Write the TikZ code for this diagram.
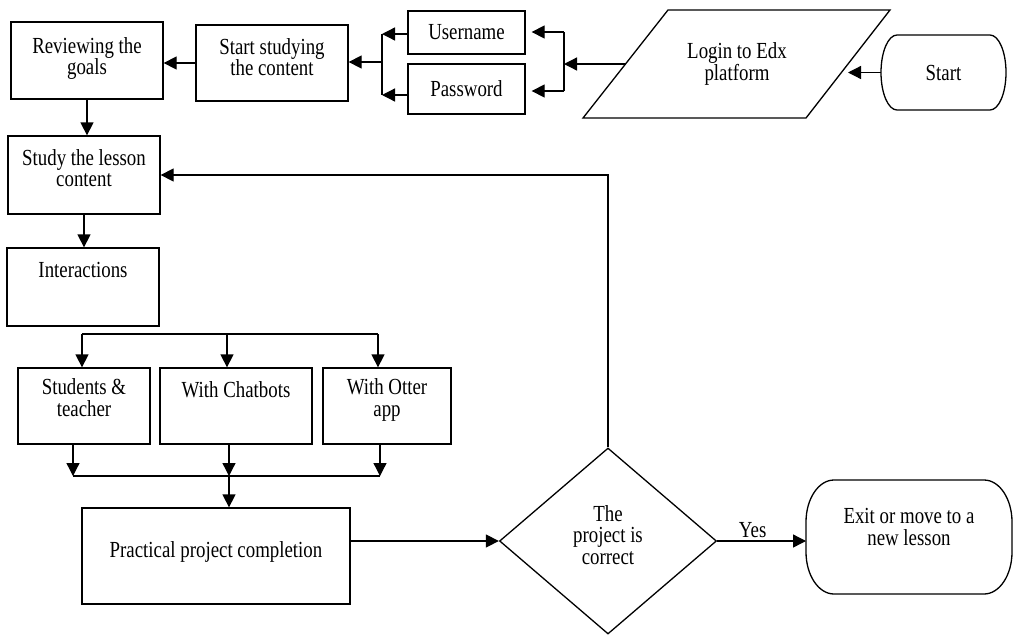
\documentclass[tikz,border=0pt]{standalone}
\usepackage{fontspec}
\setmainfont{Liberation Serif}[FakeStretch=0.82]
\usetikzlibrary{arrows.meta,shapes.geometric}
\newcommand{\ovalbox}[3]{%
  \draw[lw] ([xshift=#2]#1.north west) -- ([xshift=-#2]#1.north east)
    arc[start angle=90,end angle=0,x radius=#2,y radius=#3]
    -- ([yshift=#3]#1.south east)
    arc[start angle=0,end angle=-90,x radius=#2,y radius=#3]
    -- ([xshift=#2]#1.south west)
    arc[start angle=-90,end angle=-180,x radius=#2,y radius=#3]
    -- ([yshift=-#3]#1.north west)
    arc[start angle=180,end angle=90,x radius=#2,y radius=#3] -- cycle;}
\tikzset{
  lw/.style={line width=1.3pt},
  lbl/.style={font=\fontsize{23}{21.5}\selectfont, align=center},
  box/.style={lbl, draw, lw, rectangle, inner sep=2pt},
  txt/.style={lbl, inner sep=0pt, outer sep=0pt},
  arr/.style={lw, -{Triangle[length=13pt,width=13pt]}},
  ln/.style={lw}
}
\begin{document}
\begin{tikzpicture}[x=1pt,y=1pt]
\useasboundingbox (0,0) rectangle (1014,-635);
% nodes
\node[box, minimum width=152pt, minimum height=77pt] (review) at (87,-60.5) {Reviewing the\\goals\\[-13pt]\mbox{}};
\node[box, minimum width=152pt, minimum height=76pt] (sstart) at (272,-63) {Start studying\\the content\\[-9.5pt]\mbox{}};
\node[box, minimum width=117pt, minimum height=43pt] (user) at (466.5,-32.5) {Username};
\node[box, minimum width=117pt, minimum height=50pt] (pass) at (466.5,-89) {Password};
\node[txt, minimum width=222pt, minimum height=108pt] (login) at (737,-64) {Login to Edx\\platform};
\draw[lw] ([xshift=-154pt,yshift=-54pt]login.center) -- ([xshift=-69pt,yshift=54pt]login.center)
  -- ([xshift=153pt,yshift=54pt]login.center) -- ([xshift=69pt,yshift=-54pt]login.center) -- cycle;
\node[txt, minimum width=125pt, minimum height=75pt] (start) at (943.5,-72.5) {Start};
\ovalbox{start}{16pt}{37.5pt}
\node[box, minimum width=152pt, minimum height=78pt] (lesson) at (84,-175) {Study the lesson\\content\\[-7.5pt]\mbox{}};
\node[box, minimum width=152pt, minimum height=78pt] (inter) at (83,-287) {Interactions\\[12pt]\mbox{}};
\node[box, minimum width=132pt, minimum height=76pt] (stud) at (84,-406) {Students \&\\teacher\\[-5pt]\mbox{}};
\node[box, minimum width=152pt, minimum height=76pt] (chat) at (236,-406) {With Chatbots\\[12pt]\mbox{}};
\node[box, minimum width=128pt, minimum height=76pt] (otter) at (387,-406) {With Otter\\app\\[-5pt]\mbox{}};
\node[box, minimum width=268pt, minimum height=96pt] (prac) at (216,-556) {Practical project completion\\[-9.5pt]\mbox{}};
\node[lbl, draw, lw, diamond, inner sep=0pt, minimum width=217pt, minimum height=186pt] (dia) at (608,-541) {The\\project is\\correct\\[-9.5pt]\mbox{}};
\node[txt, minimum width=206pt, minimum height=114pt] (exit) at (909,-537) {Exit or move to a\\new lesson\\[-1.5pt]\mbox{}};
\ovalbox{exit}{28pt}{42pt}
% connectors (top row)
\draw[arr] (start.west) -- (start.west -| login.east);
\coordinate (jr) at (564,-64);
\coordinate (jru) at (564,-32);
\coordinate (jrd) at (564,-91);
\draw[arr] (login.west) -- (jr);
\draw[ln] (jru) -- (jrd);
\draw[arr, shorten >=6pt] (jru) -- (jru -| user.east);
\draw[arr, shorten >=6pt] (jrd) -- (jrd -| pass.east);
\coordinate (jl) at (382,-62);
\coordinate (jlu) at (382,-34);
\coordinate (jld) at (382,-95);
\draw[ln] (jlu) -- (jld);
\draw[arr] (jlu -| user.west) -- (jlu);
\draw[arr] (jld -| pass.west) -- (jld);
\draw[arr] (jl) -- (jl -| sstart.east);
\draw[arr] (sstart.west) -- (sstart.west -| review.east);
\draw[arr] (review.south) -- (review.south |- lesson.north);
\draw[arr] (lesson.south) -- (lesson.south |- inter.north);
% branch to interactions
\coordinate (bl) at (82,-334);
\coordinate (bm) at (227,-334);
\coordinate (br) at (378,-334);
\draw[ln] (bl) -- (br);
\draw[arr] (bl) -- (bl |- stud.north);
\draw[arr] (bm) -- (bm |- chat.north);
\draw[arr] (br) -- (br |- otter.north);
% merge
\coordinate (ml) at (73,-476);
\coordinate (mm) at (229,-476);
\coordinate (mr) at (380,-476);
\draw[arr] (ml |- stud.south) -- (ml);
\draw[arr] (mm |- chat.south) -- (mm);
\draw[arr] (mr |- otter.south) -- (mr);
\draw[ln] (ml) -- (mr);
\draw[arr] (mm) -- (mm |- prac.north);
% decision
\draw[arr] (prac.east |- dia.west) -- (dia.west);
\draw[arr] (dia.east) -- node[lbl, above, pos=0.4, inner sep=3pt] {Yes} (dia.east -| exit.west);
\draw[arr] (dia.north) |- (lesson.east);
\end{tikzpicture}
\end{document}
